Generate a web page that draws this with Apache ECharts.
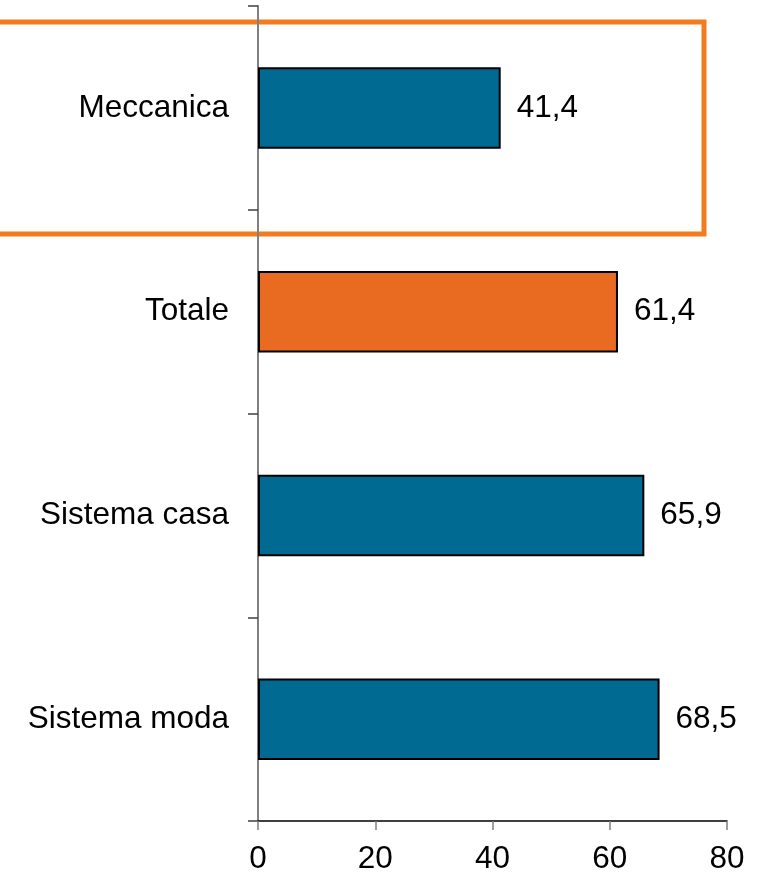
<!DOCTYPE html>
<html>
<head>
<meta charset="utf-8">
<script src="https://cdn.jsdelivr.net/npm/echarts@6/dist/echarts.min.js"></script>
<style>
  html, body { margin: 0; padding: 0; background: #fff; }
  #chart { width: 761px; height: 875px; }
</style>
</head>
<body>
<div id="chart"></div>
<script>
// categories listed bottom to top
const categories = ['Sistema moda', 'Sistema casa', 'Totale', 'Meccanica']
const values = [68.5, 65.9, 61.4, 41.4]
const highlight = ['Totale']
const xTicks = [0, 20, 40, 60, 80]

const blue = '#006a93'
const orange = '#e96b22'
const font = 'Liberation Sans, Arial, sans-serif'

const chart = echarts.init(document.getElementById('chart'))
chart.setOption({
  animation: false,
  grid: {
    left: 258,
    right: 34,
    top: 6,
    bottom: 53
  },
  xAxis: {
    type: 'value',
    min: xTicks[0],
    max: xTicks[xTicks.length - 1],
    interval: 20,
    splitLine: { show: false },
    axisLine: { show: true, lineStyle: { color: '#000', width: 1.5 } },
    axisTick: { show: true, length: 9, lineStyle: { color: '#808080', width: 1.5 } },
    axisLabel: {
      margin: 22,
      color: '#000',
      fontSize: 31.5,
      fontFamily: font
    }
  },
  yAxis: {
    type: 'category',
    data: categories,
    axisLine: { show: true, lineStyle: { color: '#808080', width: 2 } },
    axisTick: { show: true, length: 10, lineStyle: { color: '#404040', width: 1.5 } },
    axisLabel: {
      margin: 29,
      color: '#000',
      fontSize: 31.5,
      fontFamily: font
    }
  },
  series: [{
    type: 'bar',
    barWidth: '40%',
    data: values.map((v, i) => ({
      value: v,
      itemStyle: {
        color: highlight.includes(categories[i]) ? orange : blue
      }
    })),
    itemStyle: {
      borderColor: '#000',
      borderWidth: 2
    },
    label: {
      show: true,
      position: 'right',
      distance: 16,
      color: '#000',
      fontSize: 31.5,
      fontFamily: font,
      formatter: p => String(p.value).replace('.', ',')
    }
  }],
  // highlight box around the Meccanica row
  graphic: [{
    type: 'rect',
    shape: { x: -10, y: 22, width: 714, height: 212 },
    style: { fill: 'none', stroke: '#f47a20', lineWidth: 5 }
  }]
})
</script>
</body>
</html>
